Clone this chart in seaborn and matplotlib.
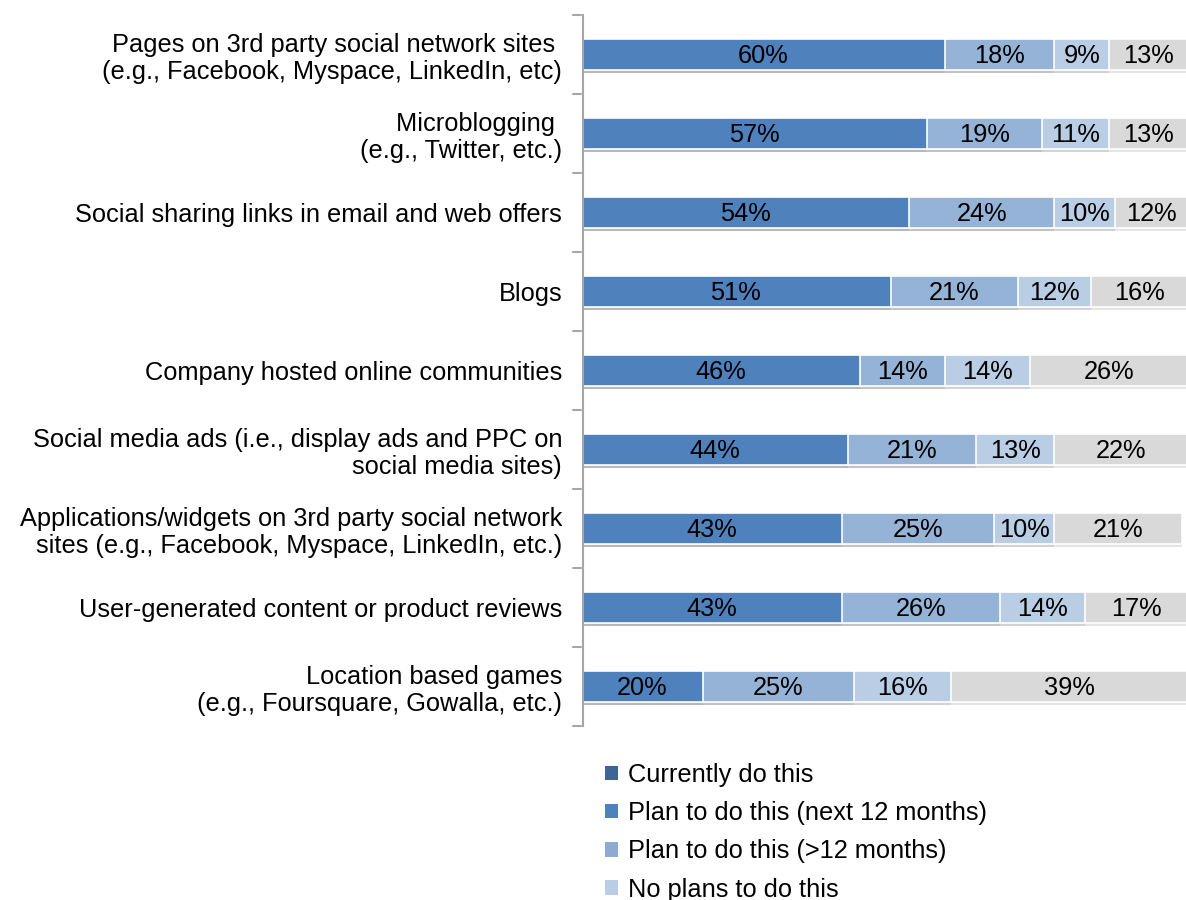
import matplotlib
matplotlib.use("Agg")
import matplotlib.pyplot as plt
import matplotlib.patheffects as pe
from matplotlib.patches import Patch
import seaborn as sns
import pandas as pd
import numpy as np

categories = [
    "Pages on 3rd party social network sites \n(e.g., Facebook, Myspace, LinkedIn, etc)",
    "Microblogging \n(e.g., Twitter, etc.)",
    "Social sharing links in email and web offers",
    "Blogs",
    "Company hosted online communities",
    "Social media ads (i.e., display ads and PPC on\nsocial media sites)",
    "Applications/widgets on 3rd party social network\nsites (e.g., Facebook, Myspace, LinkedIn, etc.)",
    "User-generated content or product reviews",
    "Location based games\n(e.g., Foursquare, Gowalla, etc.)",
]
seg1 = [60, 57, 54, 51, 46, 44, 43, 43, 20]
seg2 = [18, 19, 24, 21, 14, 21, 25, 26, 25]
seg3 = [9, 11, 10, 12, 14, 13, 10, 14, 16]
seg4 = [13, 13, 12, 16, 26, 22, 21, 17, 39]
legend_labels = ["Currently do this", "Plan to do this (next 12 months)",
                 "Plan to do this (>12 months)", "No plans to do this"]

bar_colors = ["#4F81BD", "#95B3D7", "#B9CDE5", "#D9D9D9"]
legend_colors = ["#3E6595", "#4F81BD", "#8EA9D2", "#B9CDE5"]

segs = [seg1, seg2, seg3, seg4]
cum = np.cumsum(np.array(segs), axis=0)

df = pd.DataFrame({"cat": categories})
for k in range(4):
    df[f"c{k}"] = cum[k]

sns.set_style("white")
plt.rcParams["font.family"] = ["Liberation Sans", "DejaVu Sans"]
plt.rcParams["text.color"] = "black"
plt.rcParams["ytick.color"] = "black"

FS = 18.3

fig = plt.figure(figsize=(11.86, 9), dpi=100)
ax = fig.add_axes([583 / 1186, 1 - 726 / 900, 605 / 1186, 711 / 900])

# draw stacked bars from the outermost (cumulative total) inwards
for k in range(3, -1, -1):
    sns.barplot(data=df, x=f"c{k}", y="cat", orient="h", color=bar_colors[k],
                width=0.39, edgecolor="white", linewidth=1.2, saturation=1,
                ax=ax)

shadow = [pe.SimplePatchShadow(offset=(0, -2.5), shadow_rgbFace="#9a9a9a", alpha=0.25), pe.Normal()]
for p in ax.patches:
    p.set_path_effects(shadow)

for i in range(len(categories)):
    left = 0
    for k in range(4):
        v = segs[k][i]
        ax.text(left + v / 2, i + 0.02, f"{v}%", ha="center", va="center",
                fontsize=FS, color="black")
        left += v

ax.set_xlim(0.3, 100)
ax.set_ylim(8.5, -0.5)
ax.set_xlabel("")
ax.set_ylabel("")
ax.set_xticks([])
ax.set_yticks(np.arange(len(categories)))
ax.set_yticklabels(categories, fontsize=FS, linespacing=1.15, color="black")
ax.tick_params(axis="y", length=0, pad=15)
for s in ["top", "right", "bottom"]:
    ax.spines[s].set_visible(False)
ax.spines["left"].set_color("#A6A6A6")
ax.spines["left"].set_linewidth(1.5)
# boundary ticks between categories
for yb in np.arange(-0.5, 9, 1.0):
    ax.plot([-1.3, 0], [yb, yb], color="#A6A6A6", lw=1.5, clip_on=False)

handles = [Patch(facecolor=c, edgecolor="none") for c in legend_colors]
leg = fig.legend(handles, legend_labels, loc="upper left",
                 bbox_to_anchor=(605 / 1186, 1 - 763 / 900), frameon=False,
                 fontsize=FS, handlelength=0.5, handleheight=0.5,
                 handletextpad=0.4, labelspacing=0.56, borderaxespad=0,
                 borderpad=0)

fig.savefig("out.png", dpi=100)
